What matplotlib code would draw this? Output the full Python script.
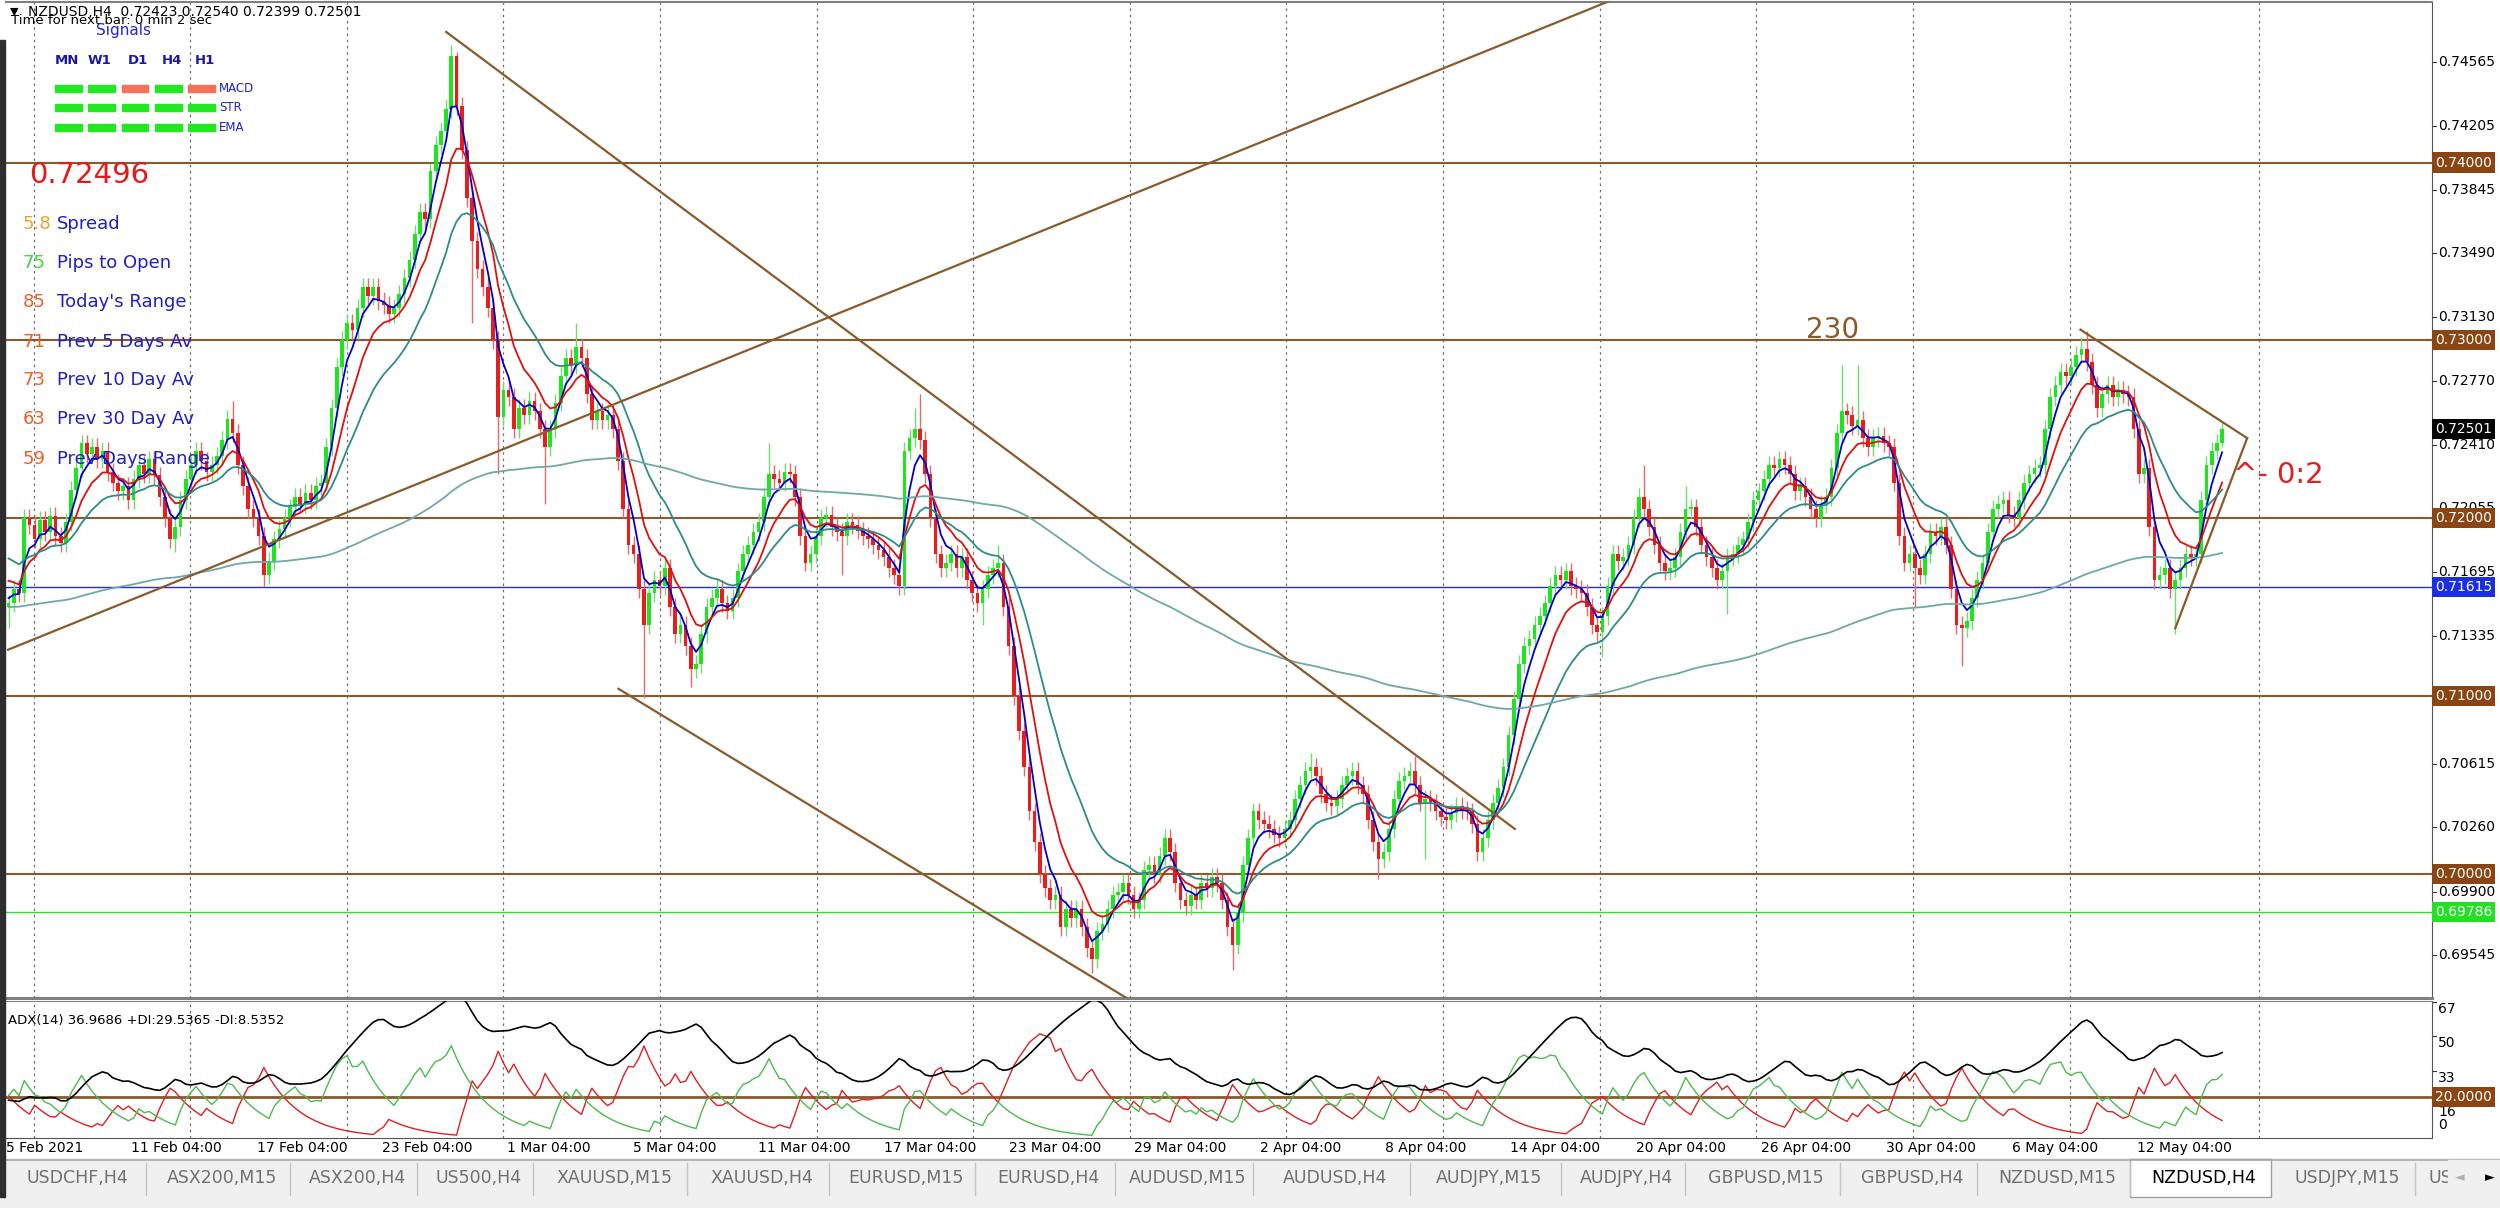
import numpy as np
import matplotlib
matplotlib.use("Agg")
import matplotlib.pyplot as plt
from matplotlib.patches import Rectangle

# ================= data (prices in pips) =================
first_open = 7150
closes_pips = [
    7152, 7160, 7158, 7200, 7196, 7188, 7199, 7192, 7201, 7190,
    7186, 7198, 7216, 7228, 7242, 7236, 7240, 7233, 7238, 7226,
    7220, 7215, 7218, 7210, 7222, 7230, 7225, 7233, 7224, 7212,
    7200, 7188, 7195, 7210, 7222, 7230, 7238, 7232, 7226, 7230,
    7235, 7244, 7256, 7248, 7230, 7218, 7205, 7200, 7190, 7168,
    7176, 7188, 7194, 7200, 7206, 7212, 7208, 7214, 7210, 7218,
    7220, 7240, 7262, 7285, 7300, 7310, 7306, 7318, 7330, 7325,
    7330, 7322, 7320, 7315, 7318, 7326, 7335, 7345, 7360, 7372,
    7368, 7395, 7410, 7418, 7430, 7460, 7432, 7407, 7380, 7356,
    7340, 7330, 7318, 7300, 7257, 7272, 7268, 7250, 7262, 7258,
    7266, 7260, 7250, 7240, 7250, 7265, 7280, 7290, 7286, 7296,
    7290, 7270, 7255, 7260, 7255, 7258, 7250, 7232, 7205, 7185,
    7180, 7160, 7140, 7158, 7165, 7162, 7172, 7150, 7135, 7140,
    7128, 7115, 7118, 7135, 7150, 7155, 7160, 7152, 7148, 7155,
    7170, 7180, 7185, 7192, 7198, 7212, 7225, 7222, 7220, 7226,
    7225, 7212, 7190, 7175, 7180, 7190, 7200, 7202, 7195, 7192,
    7190, 7198, 7196, 7193, 7190, 7188, 7185, 7182, 7178, 7172,
    7168, 7162, 7238, 7245, 7250, 7244, 7225, 7200, 7180, 7172,
    7175, 7180, 7172, 7178, 7165, 7158, 7152, 7160, 7168, 7172,
    7175, 7150, 7128, 7100, 7080, 7060, 7035, 7018, 7000, 6992,
    6985, 6988, 6970, 6980, 6975, 6980, 6970, 6958, 6952, 6968,
    6972, 6980, 6988, 6990, 6995, 6988, 6980, 6985, 7002, 7005,
    7000, 7010, 7020, 7012, 6995, 6985, 6982, 6988, 6985, 6995,
    6992, 6998, 6995, 6985, 6970, 6960, 6978, 7005, 7020, 7035,
    7030, 7028, 7025, 7022, 7020, 7025, 7030, 7042, 7050, 7058,
    7060, 7055, 7045, 7040, 7038, 7042, 7050, 7055, 7058, 7050,
    7045, 7030, 7018, 7008, 7012, 7025, 7042, 7052, 7055, 7058,
    7050, 7040, 7042, 7040, 7035, 7032, 7030, 7034, 7038, 7036,
    7035, 7028, 7012, 7020, 7030, 7040, 7048, 7060, 7078, 7098,
    7118, 7128, 7132, 7140, 7145, 7152, 7162, 7168, 7165, 7170,
    7162, 7160, 7158, 7150, 7140, 7136, 7145, 7162, 7180, 7176,
    7178, 7185, 7200, 7212, 7205, 7195, 7185, 7175, 7170, 7172,
    7178, 7192, 7205, 7206, 7195, 7185, 7178, 7172, 7165, 7170,
    7178, 7180, 7185, 7188, 7198, 7210, 7215, 7222, 7230, 7228,
    7233, 7230, 7225, 7215, 7218, 7212, 7205, 7200, 7208, 7212,
    7228, 7248, 7260, 7258, 7252, 7255, 7245, 7240, 7245, 7246,
    7242, 7240, 7220, 7190, 7175, 7180, 7172, 7168, 7180, 7192,
    7190, 7195, 7185, 7160, 7140, 7138, 7142, 7155, 7165, 7175,
    7192, 7205, 7208, 7210, 7202, 7200, 7210, 7220, 7225, 7228,
    7230, 7250, 7268, 7275, 7282, 7280, 7285, 7292, 7295, 7288,
    7275, 7262, 7270, 7275, 7268, 7272, 7270, 7268, 7250, 7225,
    7228, 7195, 7165, 7168, 7172, 7160, 7165, 7172, 7180, 7178,
    7180, 7210, 7230, 7238, 7242.3, 7250.1,
]
wick_pips = 5
high_marks = {43: 7266, 85: 7466, 86: 7462, 109: 7310, 146: 7242, 174: 7262,
              175: 7270, 190: 7185, 250: 7068, 270: 7066, 314: 7230, 322: 7218,
              352: 7286, 355: 7286, 398: 7302, 399: 7305, 425: 7254.0}
low_marks = {0: 7138, 32: 7181, 49: 7162, 89: 7310, 94: 7225, 103: 7208,
             122: 7099, 131: 7105, 160: 7168, 187: 7140, 208: 6944, 235: 6946,
             263: 6997, 272: 7008, 306: 7122, 330: 7146, 366: 7150, 375: 7117,
             416: 7135, 425: 7239.9}

# moving-average starting values read at the left edge
ma_periods = [4, 9, 20, 200]
ma_seeds = [0.7157, 0.7168, 0.7180, 0.7150]
ma_colors = ["#0000CC", "#E01010", "#2E8B8B", "#6FA8A8"]
adx_seeds = [20.0, 24.0, 24.0]   # ADX, +DI, -DI

level_lines = [0.7400, 0.7300, 0.7200, 0.7100, 0.7000]
blue_level = 0.71615
green_level = 0.69786
last_price = 0.72501
price_ticks = [0.74565, 0.74205, 0.73845, 0.73490, 0.73130, 0.72770, 0.72410,
               0.72055, 0.71695, 0.71335, 0.70975, 0.70615, 0.70260, 0.69900,
               0.69545]
adx_ticks = [67, 50, 33, 16]

trend_lines = [((-0.1, 0.7126), (307.5, 0.7491)),
               ((84.0, 0.74735), (289.2, 0.70252)),
               ((117.1, 0.7104), (214.7, 0.6930)),
               ((397.8, 0.7306), (429.8, 0.7245)),
               ((416.0, 0.7138), (429.8, 0.7245))]

date_labels = ["5 Feb 2021", "11 Feb 04:00", "17 Feb 04:00", "23 Feb 04:00",
               "1 Mar 04:00", "5 Mar 04:00", "11 Mar 04:00", "17 Mar 04:00",
               "23 Mar 04:00", "29 Mar 04:00", "2 Apr 04:00", "8 Apr 04:00",
               "14 Apr 04:00", "20 Apr 04:00", "26 Apr 04:00", "30 Apr 04:00",
               "6 May 04:00", "12 May 04:00"]

tab_names = ["USDCHF,H4", "ASX200,M15", "ASX200,H4", "US500,H4", "XAUUSD,M15",
             "XAUUSD,H4", "EURUSD,M15", "EURUSD,H4", "AUDUSD,M15", "AUDUSD,H4",
             "AUDJPY,M15", "AUDJPY,H4", "GBPUSD,M15", "GBPUSD,H4", "NZDUSD,M15",
             "NZDUSD,H4", "USDJPY,M15"]
tab_edges = [0, 146, 289.5, 417, 532.7, 687.4, 829.3, 974.5, 1114.8, 1253,
             1409.5, 1561, 1684.6, 1840, 1977, 2129.6, 2270.7, 2415]
active_tab = "NZDUSD,H4"

signal_cols = ["MN", "W1", "D1", "H4", "H1"]
signal_rows = ["MACD", "STR", "EMA"]
signal_state = [[1, 1, 0, 1, 0],
                [1, 1, 1, 1, 1],
                [1, 1, 1, 1, 1]]
stat_values = ["5.8", "75", "85", "71", "73", "63", "59"]
stat_names = ["Spread", "Pips to Open", "Today's Range", "Prev 5 Days Av",
              "Prev 10 Day Av", "Prev 30 Day Av", "Prev Days Range"]
stat_colors = ["#F0A030", "#3ED83E", "#EE6028", "#EE6028", "#EE6028",
               "#EE6028", "#EE6028"]

# ================= derived series =================
closes = np.array(closes_pips) / 10000
n = len(closes)
opens = np.r_[first_open / 10000, closes[:-1]]
highs = np.maximum(opens, closes) + wick_pips / 10000
lows = np.minimum(opens, closes) - wick_pips / 10000
for k, v in high_marks.items():
    highs[k] = v / 10000
for k, v in low_marks.items():
    lows[k] = v / 10000
opens[425] = 0.72423


def ema(x, period, seed, wilder=False):
    a = 1.0 / period if wilder else 2.0 / (period + 1)
    out = np.empty(len(x))
    v = seed
    for i, xi in enumerate(x):
        v = v + a * (xi - v)
        out[i] = v
    return out


# ADX(14): DI lines EMA-smoothed, ADX Wilder-smoothed
pdi_raw = np.zeros(n)
mdi_raw = np.zeros(n)
for i in range(1, n):
    pdm = max(highs[i] - highs[i - 1], 0)
    mdm = max(lows[i - 1] - lows[i], 0)
    if pdm == mdm:
        pdm = mdm = 0
    elif pdm < mdm:
        pdm = 0
    else:
        mdm = 0
    tr = max(highs[i] - lows[i], abs(highs[i] - closes[i - 1]), abs(lows[i] - closes[i - 1]))
    if tr > 0:
        pdi_raw[i] = 100 * pdm / tr
        mdi_raw[i] = 100 * mdm / tr
plus_di = ema(pdi_raw, 14, adx_seeds[1])
minus_di = ema(mdi_raw, 14, adx_seeds[2])
dx = 100 * np.abs(plus_di - minus_di) / np.maximum(plus_di + minus_di, 1e-9)
adx = ema(dx, 14, adx_seeds[0], wilder=True)

# ================= figure =================
W, H = 2500, 1208
fig = plt.figure(figsize=(25, 12.08), dpi=100, facecolor="white")


def fx(x):
    return x / W


def fy(y):
    return 1 - y / H


ax = fig.add_axes([fx(6), fy(998), 2426 / W, 996 / H])
adx_ax = fig.add_axes([fx(6), fy(1138), 2426 / W, 137 / H], sharex=ax)

ax.set_xlim(-0.5, 465.3)
ax.set_ylim(0.69301, 0.74903)
adx_ax.set_ylim(0, 67.3)

for a in (ax, adx_ax):
    a.set_xticks([])
    a.set_yticks([])
    a.spines["left"].set_visible(False)
    a.spines["right"].set_color("#555555")
    a.spines["top"].set_color("#808080")
ax.spines["bottom"].set_color("#808080")
ax.spines["bottom"].set_linewidth(2.2)
ax.spines["top"].set_linewidth(1.5)
adx_ax.spines["bottom"].set_color("#555555")

# weekly separators
seps = [4.8 + 30.07 * k for k in range(14)] + [432.1]
for s in seps:
    for a in (ax, adx_ax):
        a.axvline(s, color="#707070", lw=0.9, ls=(0, (2, 3)), zorder=1)

# level lines
for lv in level_lines:
    ax.axhline(lv, color="#8B5A2B", lw=1.5, zorder=1.5)
ax.axhline(blue_level, color="#2828E0", lw=1.0, zorder=1.5)
ax.axhline(green_level, color="#33DD33", lw=1.0, zorder=1.5)

# candles
idx = np.arange(n)
up = closes >= opens
ax.vlines(idx[up], lows[up], highs[up], color="#6CE06C", lw=1.0, zorder=2)
ax.vlines(idx[~up], lows[~up], highs[~up], color="#E86A6A", lw=1.0, zorder=2)
body_lo = np.minimum(opens, closes)
body_h = np.maximum(np.abs(closes - opens), 0.00004)
ax.bar(idx[up], body_h[up], bottom=body_lo[up], width=0.7, color="#1EE61E", lw=0, zorder=3)
ax.bar(idx[~up], body_h[~up], bottom=body_lo[~up], width=0.7, color="#E81E1E", lw=0, zorder=3)

# moving averages
for per, seed, col in zip(ma_periods, ma_seeds, ma_colors):
    ax.plot(idx, ema(closes, per, seed), color=col, lw=1.3, zorder=4)

# trend lines
for (x0, y0), (x1, y1) in trend_lines:
    ax.plot([x0, x1], [y0, y1], color="#8B5A2B", lw=1.6, zorder=5)

ax.text(350.3, 0.73058, "230", color="#8B5A2B", fontsize=20, ha="center", va="center", zorder=6)
ax.text(427.0, 0.72243, "^- 0:2", color="#E02020", fontsize=21, ha="left", va="center", zorder=6)

# right price scale
yt = ax.get_yaxis_transform()
for p in price_ticks:
    ax.plot([1.0, 1.0016], [p, p], transform=yt, color="#333333", lw=0.8, clip_on=False)
    ax.text(1.0025, p, f"{p:.5f}", transform=yt, fontsize=10, va="center", ha="left",
            clip_on=False, zorder=6)
box_levels = [(lv, "#8B4513", "white") for lv in level_lines]
box_levels += [(blue_level, "#1A2EE8", "white"), (green_level, "#22E022", "white"),
               (last_price, "black", "white")]
for p, fc, tc in box_levels:
    ax.text(1.0012, p, f"{p:.5f}", transform=yt, fontsize=10, va="center", ha="left",
            color=tc, clip_on=False, zorder=8,
            bbox=dict(boxstyle="square,pad=0.22", fc=fc, ec="none"))

# ADX panel
adx_ax.axhline(20, color="#8B5A2B", lw=2.0, zorder=1.5)
adx_ax.plot(idx, minus_di, color="#E02020", lw=1.0, zorder=3)
adx_ax.plot(idx, plus_di, color="#4CBB4C", lw=1.0, zorder=3)
adx_ax.plot(idx, adx, color="black", lw=1.2, zorder=4)
adx_ax.text(0.001, 0.86, "ADX(14) 36.9686 +DI:29.5365 -DI:8.5352", transform=adx_ax.transAxes,
            fontsize=9.5, ha="left", va="center")
yt2 = adx_ax.get_yaxis_transform()
for v in adx_ticks:
    adx_ax.plot([1.0, 1.0016], [v, v], transform=yt2, color="#333333", lw=0.8, clip_on=False)
    adx_ax.text(1.0025, v, str(v), transform=yt2, fontsize=10, va="top", ha="left", clip_on=False)
adx_ax.text(1.0025, 6.4, "0", transform=yt2, fontsize=10, va="center", ha="left", clip_on=False)
adx_ax.text(1.0012, 20, "20.0000", transform=yt2, fontsize=10, va="center", ha="left",
            color="white", clip_on=False, zorder=8,
            bbox=dict(boxstyle="square,pad=0.22", fc="#8B4513", ec="none"))

# date labels
xt = adx_ax.get_xaxis_transform()
for k, lab in enumerate(date_labels):
    adx_ax.text(24.07 * k - 0.5, -0.075, lab, transform=xt, fontsize=10, ha="left",
                va="center", clip_on=False)

# left window border
fig.add_artist(Rectangle((0, fy(1197)), fx(5), (1197 - 40) / H, transform=fig.transFigure,
                         color="#2E2E2E", zorder=10))

# ----- top-left overlays -----
fig.text(fx(10), fy(12), "\u25BC", fontsize=8, va="center", ha="left")
fig.text(fx(28), fy(12), "NZDUSD,H4  0.72423 0.72540 0.72399 0.72501", fontsize=10,
         va="center", ha="left")
fig.text(fx(11), fy(21), "Time for next bar: 0 min 2 sec", fontsize=9.5, va="center", ha="left")
fig.text(fx(96), fy(31), "Signals", fontsize=11, color="#2626D8", va="center", ha="left")

col_x = [55, 88.3, 121.7, 155, 188.3]
row_y = [88.3, 107.7, 127.7]
head_x = [55, 88, 128, 162, 195]
for hx, name in zip(head_x, signal_cols):
    fig.text(fx(hx), fy(60), name, fontsize=9.5, fontweight="bold", color="#1818A8",
             va="center", ha="left")
for r, rname in enumerate(signal_rows):
    for c in range(len(signal_cols)):
        col = "#22E822" if signal_state[r][c] else "#F87058"
        fig.add_artist(Rectangle((fx(col_x[c]), fy(row_y[r] + 3.7)), 26.7 / W, 7.4 / H,
                                 transform=fig.transFigure, color=col, zorder=11))
    fig.text(fx(219), fy(row_y[r]), rname, fontsize=8.5, color="#1F1FC8", va="center", ha="left")

fig.text(fx(29), fy(175), "0.72496", fontsize=21, color="#E81818", va="center", ha="left")
stat_y = [224, 263.3, 302, 341.7, 380, 419, 459]
for yv, val, name, col in zip(stat_y, stat_values, stat_names, stat_colors):
    fig.text(fx(23), fy(yv), val, fontsize=13, color=col, va="center", ha="left", zorder=12)
    fig.text(fx(57), fy(yv), name, fontsize=13, color="#1F1FC8", va="center", ha="left", zorder=12)

# ----- tab bar -----
tab_ax = fig.add_axes([0, 0, 1, 50 / H])
tab_ax.set_xlim(0, W)
tab_ax.set_ylim(1208, 1158)
tab_ax.axis("off")
tab_ax.add_patch(Rectangle((0, 1158), W, 50, color="#F0F0F0", zorder=0))
tab_ax.plot([0, W], [1159.5, 1159.5], color="#A8A8A8", lw=1.2)
for i, name in enumerate(tab_names):
    x0, x1 = tab_edges[i], tab_edges[i + 1]
    if name == active_tab:
        tab_ax.add_patch(Rectangle((x0, 1158.5), x1 - x0, 38.5, fc="white", ec="#A0A0A0",
                                   lw=1.0, zorder=1))
        col = "black"
    else:
        col = "#707070"
        tab_ax.plot([x1, x1], [1163, 1195], color="#C4C4C4", lw=1.0)
    tab_ax.text((x0 + x1) / 2 + 4, 1178, name, fontsize=12.5, color=col, ha="center", va="center",
                zorder=2)
tab_ax.text(2428, 1178, "US", fontsize=12.5, color="#707070", ha="left", va="center", zorder=2)
tab_ax.add_patch(Rectangle((2448, 1160), 52, 36, color="#F0F0F0", zorder=3))
tab_ax.text(2460, 1178, "\u25C4", fontsize=9, color="#B0B0B0", ha="center", va="center", zorder=4)
tab_ax.text(2490, 1178, "\u25BA", fontsize=9, color="black", ha="center", va="center", zorder=4)

fig.savefig("out.png", dpi=100)
